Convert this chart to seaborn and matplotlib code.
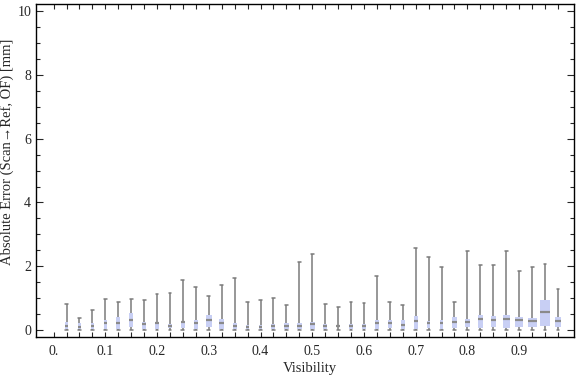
import numpy as np
import pandas as pd
import matplotlib
matplotlib.use("Agg")
import matplotlib.pyplot as plt
from matplotlib.ticker import MultipleLocator, FixedLocator
import seaborn as sns

# ── data ──
visibility = [0.025, 0.05, 0.075, 0.1, 0.125, 0.15, 0.175, 0.2, 0.225, 0.25,
              0.275, 0.3, 0.325, 0.35, 0.375, 0.4, 0.425, 0.45, 0.475, 0.5,
              0.525, 0.55, 0.575, 0.6, 0.625, 0.65, 0.675, 0.7, 0.725, 0.75,
              0.775, 0.8, 0.825, 0.85, 0.875, 0.9, 0.925, 0.95, 0.975]
err_min = [0.0] * 39
err_q1 = [0.02, 0.02, 0.02, 0.02, 0.02, 0.07, 0.03, 0.02, 0.04, 0.04,
          0.02, 0.07, 0.02, 0.01, 0.01, 0.02, 0.02, 0.01, 0.01, 0.02,
          0.03, 0.08, 0.02, 0.01, 0.02, 0.04, 0.02, 0.02, 0.04, 0.02,
          0.04, 0.07, 0.04, 0.07, 0.04, 0.07, 0.07, 0.13, 0.07]
err_med = [0.12, 0.10, 0.12, 0.20, 0.21, 0.31, 0.17, 0.21, 0.12, 0.23,
           0.22, 0.31, 0.21, 0.12, 0.08, 0.09, 0.12, 0.13, 0.13, 0.17,
           0.12, 0.12, 0.12, 0.12, 0.21, 0.20, 0.16, 0.27, 0.20, 0.21,
           0.23, 0.25, 0.34, 0.32, 0.34, 0.30, 0.28, 0.55, 0.27]
err_q3 = [0.25, 0.20, 0.20, 0.31, 0.41, 0.54, 0.25, 0.25, 0.18, 0.27,
          0.31, 0.46, 0.34, 0.20, 0.15, 0.14, 0.18, 0.20, 0.20, 0.25,
          0.17, 0.16, 0.19, 0.17, 0.29, 0.32, 0.29, 0.42, 0.26, 0.31,
          0.41, 0.33, 0.47, 0.43, 0.45, 0.39, 0.36, 0.93, 0.39]
err_max = [0.81, 0.38, 0.63, 0.95, 0.87, 0.97, 0.94, 1.13, 1.16, 1.57,
           1.35, 1.06, 1.41, 1.61, 0.87, 0.94, 1.00, 0.78, 2.13, 2.39,
           0.81, 0.72, 0.87, 0.84, 1.69, 0.87, 0.78, 2.58, 2.29, 1.98,
           0.87, 2.48, 2.04, 2.04, 2.46, 1.85, 1.97, 2.06, 1.28]
# box widths vary with the bin (in visibility units)
box_width = [0.0045, 0.0045, 0.0064, 0.0064, 0.0068, 0.0077, 0.0077, 0.0077, 0.0077, 0.0083,
             0.0077, 0.0112, 0.0103, 0.0077, 0.0072, 0.0077, 0.0077, 0.0091, 0.0091, 0.0091,
             0.0077, 0.0077, 0.0077, 0.0072, 0.0083, 0.0083, 0.0083, 0.0077, 0.0072, 0.0072,
             0.0083, 0.0083, 0.0091, 0.0091, 0.0130, 0.0165, 0.0172, 0.0210, 0.0116]

# 5 points per bin -> quartiles come out exactly as min/q1/med/q3/max
rows = []
for i, v in enumerate(visibility):
    for e in (err_min[i], err_q1[i], err_med[i], err_q3[i], err_max[i]):
        rows.append({"Visibility": v, "Error": e})
df = pd.DataFrame(rows)

sns.set_style("ticks")
plt.rcParams['font.family'] = ['Liberation Serif', 'DejaVu Serif']
plt.rcParams['xtick.direction'] = 'in'
plt.rcParams['ytick.direction'] = 'in'

fig = plt.figure(figsize=(5.76, 3.77), dpi=100)
ax = fig.add_axes([0.0625, 0.106, 0.934, 0.883])

box_col = '#c8cff4'
line_col = '#7a7a7a'
for i, v in enumerate(visibility):
    sub = df[df["Visibility"] == v]
    sns.boxplot(data=sub, x="Visibility", y="Error", orient="x",
                native_scale=True, width=box_width[i], whis=(0, 100),
                color=box_col, linecolor=line_col, linewidth=1.0,
                boxprops=dict(facecolor=box_col, edgecolor=box_col, linewidth=0),
                medianprops=dict(color='#8a8a8a', linewidth=1.6),
                whiskerprops=dict(color=line_col, linewidth=1.1),
                capprops=dict(color=line_col, linewidth=1.1),
                capwidths=0.0055, showfliers=False, ax=ax)

ax.set_xlim(-0.034, 1.006)
ax.set_ylim(-0.23, 10.23)

ax.xaxis.set_major_locator(FixedLocator(np.arange(0, 40) * 0.025))
ax.set_xticklabels(["0." if k == 0 else (f"{k * 0.025:.1f}" if k % 4 == 0 else "")
                    for k in range(40)])
ax.yaxis.set_major_locator(MultipleLocator(2))
ax.yaxis.set_minor_locator(MultipleLocator(0.5))
ax.tick_params(axis='x', which='major', length=3.5, width=0.8, top=True,
               labelsize=10, pad=6)
ax.tick_params(axis='y', which='major', length=5, width=0.8, right=True,
               labelsize=10)
ax.tick_params(axis='y', which='minor', length=3, width=0.8, right=True)
for s in ax.spines.values():
    s.set_linewidth(1.0)
    s.set_color('black')

ax.set_xlabel("Visibility", fontsize=10.5)
ax.set_ylabel("Absolute Error (Scan→Ref, OF) [mm]", fontsize=10.5)
ax.yaxis.set_label_coords(-0.041, 0.556)
ax.xaxis.set_label_coords(0.509, -0.075)

fig.savefig("out.png", dpi=100)
